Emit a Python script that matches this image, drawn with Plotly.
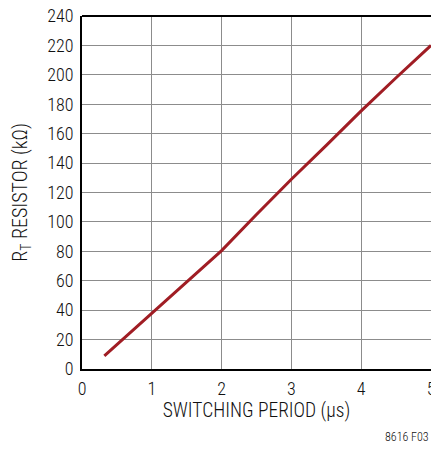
import plotly.graph_objects as go

# RT resistor vs switching period
period_us = [0.32, 1.0, 1.5, 2.0, 2.5, 3.0, 3.5, 4.0, 4.5, 5.0]
rt_kohm = [9, 38, 59.5, 80.5, 105, 129, 152, 175.5, 198, 220]

x_ticks = [0, 1, 2, 3, 4, 5]
y_ticks = list(range(0, 241, 20))

font_family = "Roboto Condensed, Liberation Sans, Arial, sans-serif"

fig = go.Figure()
fig.add_trace(go.Scatter(
    x=period_us, y=rt_kohm, mode="lines",
    line=dict(color="#a01d24", width=3),
    showlegend=False,
))

fig.update_layout(
    width=431, height=451,
    margin=dict(l=82, r=0, t=16, b=82),
    plot_bgcolor="white", paper_bgcolor="white",
    font=dict(family=font_family, color="#111111", size=18, weight=300),
    xaxis=dict(
        range=[0, 5], tickvals=x_ticks, ticks="", automargin=False,
        showgrid=True, gridcolor="#8c8c8c", gridwidth=1.3,
        showline=True, linecolor="black", linewidth=2,
        zeroline=False, tickfont=dict(size=18, weight=300),
        ticklabeloverflow="allow", ticklabelstandoff=2,
        title=dict(text="SWITCHING PERIOD (µs)", font=dict(size=19.5, weight=300), standoff=6),
    ),
    yaxis=dict(
        range=[0, 240], tickvals=y_ticks, ticks="", automargin=False,
        showgrid=True, gridcolor="#8c8c8c", gridwidth=1.3,
        showline=True, linecolor="black", linewidth=2,
        zeroline=False, tickfont=dict(size=18, weight=300),
        ticklabelstandoff=3,
        title=dict(text="R<sub>T</sub> RESISTOR (kΩ)", font=dict(size=20, weight=300), standoff=14),
    ),
    shapes=[dict(type="line", xref="paper", yref="paper", x0=0, x1=1, y0=1, y1=1,
                 line=dict(color="black", width=2))],
    annotations=[dict(text="8616 F03", xref="paper", yref="paper",
                      x=1, y=-0.194, xanchor="right", yanchor="middle",
                      showarrow=False, font=dict(size=12, weight=300))],
)

fig.write_html("out.html")
